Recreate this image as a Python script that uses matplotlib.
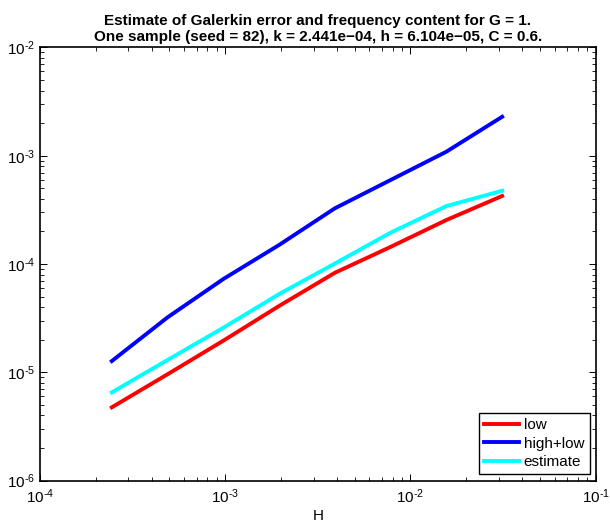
import math
import matplotlib
matplotlib.use("Agg")
import matplotlib.pyplot as plt
from matplotlib.ticker import FuncFormatter

plt.rcParams['font.family'] = ['Liberation Sans', 'DejaVu Sans']
plt.rcParams['mathtext.fontset'] = 'custom'
plt.rcParams['mathtext.rm'] = 'Liberation Sans'
plt.rcParams['mathtext.it'] = 'Liberation Sans:italic'
plt.rcParams['mathtext.bf'] = 'Liberation Sans:bold'

# mesh sizes H (k * 2^n)
H = [2.441e-4, 4.883e-4, 9.766e-4, 1.953e-3, 3.906e-3, 7.8125e-3, 1.5625e-2, 3.125e-2]

# errors
err_low = [4.75e-6, 9.6e-6, 1.96e-5, 4.1e-5, 8.3e-5, 1.44e-4, 2.55e-4, 4.25e-4]
err_high_low = [1.27e-5, 3.22e-5, 7.27e-5, 1.5e-4, 3.27e-4, 5.97e-4, 1.09e-3, 2.29e-3]
err_estimate = [6.53e-6, 1.3e-5, 2.58e-5, 5.28e-5, 1.01e-4, 1.95e-4, 3.43e-4, 4.75e-4]


def pow10(v, pos):
    # matlab style 10^-n labels with a short dash
    e = int(round(math.log10(v)))
    return r'$10^{\text{-%d}}$' % -e


fig = plt.figure(figsize=(6.10, 5.22), dpi=100)
ax = fig.add_axes([0.0656, 0.0793, 0.9110, 0.8298])

ax.loglog(H, err_low, color='#ff0000', lw=2.8, label='low')
ax.loglog(H, err_high_low, color='#0000ff', lw=2.8, label='high+low')
ax.loglog(H, err_estimate, color='#00ffff', lw=2.8, label='estimate')

ax.set_xlim(1e-4, 1e-1)
ax.set_ylim(1e-6, 1e-2)
ax.xaxis.set_major_formatter(FuncFormatter(pow10))
ax.yaxis.set_major_formatter(FuncFormatter(pow10))
ax.set_xlabel('H', fontsize=11, labelpad=2)
ax.set_title('Estimate of Galerkin error and frequency content for G = 1.\n'
             'One sample (seed = 82), k = 2.441e\u221204, h = 6.104e\u221205, C = 0.6.',
             fontsize=11, fontweight='bold', pad=5, linespacing=1.1)

ax.tick_params(which='both', direction='in', top=True, right=True, labelsize=11)
ax.tick_params(which='major', length=5, width=0.7)
ax.tick_params(which='minor', length=3, width=0.6)
ax.tick_params(axis='x', pad=5)
for s in ax.spines.values():
    s.set_linewidth(1.2)

leg = ax.legend(loc='lower right', fontsize=11, fancybox=False, framealpha=1,
                edgecolor='black', handlelength=2.3, borderaxespad=0.4,
                handletextpad=0.3, labelspacing=0.3, borderpad=0.35)
leg.get_frame().set_linewidth(1.0)

fig.savefig('out.png', dpi=100)
